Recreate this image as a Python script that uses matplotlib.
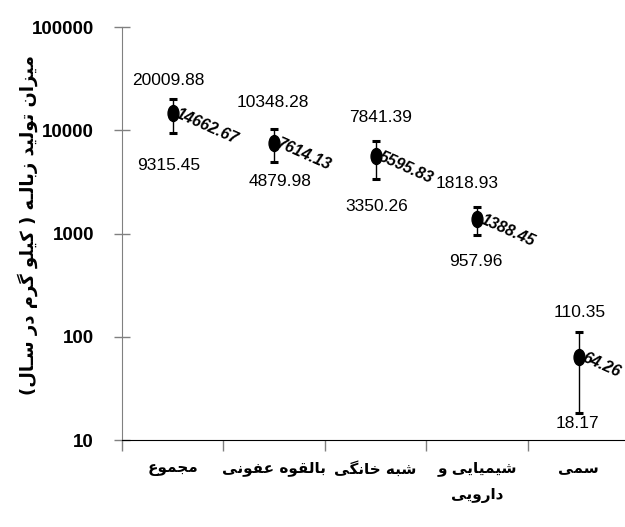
import matplotlib
matplotlib.use('Agg')
import matplotlib.pyplot as plt
from matplotlib.markers import MarkerStyle
from matplotlib.transforms import Affine2D

# Data
categories = ['مجموع', 'بالقوه عفونی', 'شبه خانگی', 'شیمیایی و\nدارویی', 'سمی']
mean_vals = [14662.67, 7614.13, 5595.83, 1388.45, 64.26]
upper_vals = [20009.88, 10348.28, 7841.39, 1818.93, 110.35]
lower_vals = [9315.45, 4879.98, 3350.26, 957.96, 18.17]
y_ticks = [10, 100, 1000, 10000, 100000]
y_label = 'میزان تولید زبالـه ( کیلو گرم در سـال)'

# label offsets in pixels (dx, dy) from the error bar caps
upper_off = [(-4, 19), (-1, 26), (5, 24), (-10, 23), (1, 20)]
lower_off = [(-4, -32), (6, -19), (1, -27), (-1, -26), (-1, -10)]

# Arabic presentation forms: (isolated, final, initial, medial)
FORMS = {
    'ا': ('\uFE8D', '\uFE8E', None, None),
    'ب': ('\uFE8F', '\uFE90', '\uFE91', '\uFE92'),
    'ت': ('\uFE95', '\uFE96', '\uFE97', '\uFE98'),
    'ج': ('\uFE9D', '\uFE9E', '\uFE9F', '\uFEA0'),
    'خ': ('\uFEA5', '\uFEA6', '\uFEA7', '\uFEA8'),
    'د': ('\uFEA9', '\uFEAA', None, None),
    'ر': ('\uFEAD', '\uFEAE', None, None),
    'ز': ('\uFEAF', '\uFEB0', None, None),
    'س': ('\uFEB1', '\uFEB2', '\uFEB3', '\uFEB4'),
    'ش': ('\uFEB5', '\uFEB6', '\uFEB7', '\uFEB8'),
    'ع': ('\uFEC9', '\uFECA', '\uFECB', '\uFECC'),
    'ف': ('\uFED1', '\uFED2', '\uFED3', '\uFED4'),
    'ق': ('\uFED5', '\uFED6', '\uFED7', '\uFED8'),
    'ل': ('\uFEDD', '\uFEDE', '\uFEDF', '\uFEE0'),
    'م': ('\uFEE1', '\uFEE2', '\uFEE3', '\uFEE4'),
    'ن': ('\uFEE5', '\uFEE6', '\uFEE7', '\uFEE8'),
    'ه': ('\uFEE9', '\uFEEA', '\uFEEB', '\uFEEC'),
    'و': ('\uFEED', '\uFEEE', None, None),
    'ک': ('\uFB8E', '\uFB8F', '\uFB90', '\uFB91'),
    'گ': ('\uFB92', '\uFB93', '\uFB94', '\uFB95'),
    'ی': ('\uFBFC', '\uFBFD', '\uFBFE', '\uFBFF'),
    'ـ': ('ـ', 'ـ', 'ـ', 'ـ'),
}
MIRROR = {'(': ')', ')': '('}


def shape_line(text):
    """Join Persian letters and put them in visual (left to right) order."""
    out = []
    for i, ch in enumerate(text):
        if ch not in FORMS:
            out.append(MIRROR.get(ch, ch))
            continue
        iso, fin, ini, med = FORMS[ch]
        prev = text[i - 1] if i > 0 else ''
        nxt = text[i + 1] if i < len(text) - 1 else ''
        join_prev = prev in FORMS and FORMS[prev][2] is not None
        join_next = nxt in FORMS and ini is not None
        if join_prev and join_next:
            out.append(med)
        elif join_prev:
            out.append(fin)
        elif join_next:
            out.append(ini)
        else:
            out.append(iso)
    return ''.join(reversed(out))


def shape(text):
    return '\n'.join(shape_line(line) for line in text.split('\n'))


num_font = ['Liberation Sans', 'DejaVu Sans']
fa_font = ['DejaVu Sans']

fig = plt.figure(figsize=(6.25, 5.27), dpi=100)
ax = fig.add_axes([0.195, 0.165, 0.812, 0.7837])

x = list(range(len(categories)))
yerr = [[m - lo for m, lo in zip(mean_vals, lower_vals)],
        [up - m for m, up in zip(mean_vals, upper_vals)]]

marker = MarkerStyle('o', transform=Affine2D().scale(0.68, 1.0))
ax.errorbar(x, mean_vals, yerr=yerr, fmt='none', ecolor='black',
            elinewidth=1, capsize=3.2, capthick=2.2)
ax.plot(x, mean_vals, linestyle='none', marker=marker, markersize=11.5,
        color='black')

for i in x:
    ax.annotate(f'{upper_vals[i]:.2f}', (i, upper_vals[i]), xytext=upper_off[i],
                textcoords='offset pixels', ha='center', va='center',
                fontsize=12.5, family=num_font)
    ax.annotate(f'{lower_vals[i]:.2f}', (i, lower_vals[i]), xytext=lower_off[i],
                textcoords='offset pixels', ha='center', va='center',
                fontsize=12.5, family=num_font)
    ax.annotate(f'{mean_vals[i]:.2f}', (i, mean_vals[i]), xytext=(4, 0),
                textcoords='offset pixels', ha='left', va='center',
                rotation=-24, rotation_mode='anchor', fontsize=11.5,
                fontweight='bold', fontstyle='italic', family=num_font)

ax.set_yscale('log')
ax.set_ylim(10, 100000)
ax.set_yticks(y_ticks)
ax.set_yticklabels([str(t) for t in y_ticks], fontsize=13.5, fontweight='bold',
                   family=num_font)
ax.yaxis.set_minor_locator(matplotlib.ticker.NullLocator())
ax.tick_params(axis='y', direction='inout', length=12, width=1, color='#808080',
               pad=14)

ax.set_xlim(-0.5, 4.5)
ax.set_xticks(x)
ax.set_xticklabels([shape(c) for c in categories], fontsize=11,
                   fontweight='bold', family=fa_font, linespacing=1.9)
ax.set_xticks([i - 0.5 for i in range(len(categories) + 1)], minor=True)
ax.tick_params(axis='x', which='major', length=0, pad=15)
ax.tick_params(axis='x', which='minor', direction='out', length=8, width=1,
               color='#808080')

ax.spines['top'].set_visible(False)
ax.spines['right'].set_visible(False)
ax.spines['left'].set_color('#808080')
ax.spines['bottom'].set_color('black')

fig.text(28 / 625, 0.573, shape(y_label), rotation=90, ha='center', va='center',
         fontsize=13, fontweight='bold', family=fa_font)

fig.savefig('out.png', dpi=100)
